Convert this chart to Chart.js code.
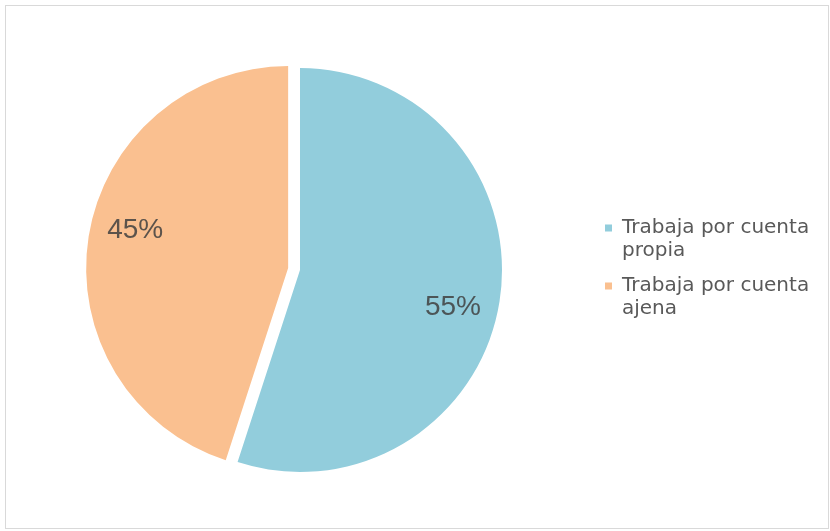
<!DOCTYPE html>
<html>
<head>
<meta charset="utf-8">
<script src="https://cdn.jsdelivr.net/npm/chart.js@4/dist/chart.umd.min.js"></script>
<style>
    html, body { margin: 0; padding: 0; background: #fff; }
    #marco { position: relative; width: 830px; height: 531px; }
    #marco canvas { position: absolute; left: 0; top: 0; }
    #borde { position: absolute; left: 5px; top: 5px; width: 822px; height: 522px; border: 1px solid #d9d9d9; }
</style>
</head>
<body>
<div id="marco">
    <div id="borde"></div>
    <canvas id="grafico-situacion" width="830" height="531"></canvas>
</div>
<script>
// categorias partidas en dos lineas para la leyenda
const categorias = [['Trabaja por cuenta', 'propia'], ['Trabaja por cuenta', 'ajena']];
const porcentajes = [55, 45];
const colores = ['#92CDDC', '#FAC090'];

// separacion de cada porcion respecto al centro (px)
const separacion = [0, 12];

const fuenteLeyenda = { family: 'DejaVu Sans', size: 20, lineHeight: 1.15 };

// ancho de la leyenda para dejar la torta centrada en x=300
function anchoLeyenda() {
    const ctx = document.createElement('canvas').getContext('2d');
    ctx.font = fuenteLeyenda.size + 'px "' + fuenteLeyenda.family + '"';
    let maxTexto = 0;
    categorias.forEach(function (c) {
        c.forEach(function (linea) {
            maxTexto = Math.max(maxTexto, ctx.measureText(linea).width);
        });
    });
    return 12 + 7 + fuenteLeyenda.size / 2 + maxTexto + 10;
}

// dibuja cada porcion desplazada sobre su angulo medio, sin agrandar el radio
const porcionesSeparadas = {
    id: 'porcionesSeparadas',
    beforeDatasetDraw(chart, args) {
        const ctx = chart.ctx;
        args.meta.data.forEach(function (arc, i) {
            const p = arc.getProps(['startAngle', 'endAngle']);
            const medio = (p.startAngle + p.endAngle) / 2;
            const d = separacion[i] || 0;
            ctx.save();
            ctx.translate(Math.cos(medio) * d, Math.sin(medio) * d);
            arc.draw(ctx);
            ctx.restore();
        });
        return false;
    }
};

// etiquetas de porcentaje dentro de cada porcion
const etiquetasPorcentaje = {
    id: 'etiquetasPorcentaje',
    afterDatasetsDraw(chart) {
        const ctx = chart.ctx;
        const meta = chart.getDatasetMeta(0);
        ctx.save();
        ctx.font = '28px "Liberation Sans"';
        ctx.fillStyle = 'rgba(64, 64, 64, 0.85)';
        ctx.textAlign = 'center';
        ctx.textBaseline = 'middle';
        meta.data.forEach(function (arc, i) {
            const p = arc.getProps(['x', 'y', 'startAngle', 'endAngle', 'outerRadius']);
            const medio = (p.startAngle + p.endAngle) / 2;
            const d = separacion[i] || 0;
            const cx = p.x + Math.cos(medio) * d;
            const cy = p.y + Math.sin(medio) * d;
            const giro = medio + 0.085;
            const r = p.outerRadius * 0.78;
            ctx.fillText(porcentajes[i] + '%', cx + Math.cos(giro) * r, cy + Math.sin(giro) * r);
        });
        ctx.restore();
    }
};

function drawGraficoSituacion(id) {
    const ctx = document.getElementById(id);
    const izq = 7;
    const legendLeft = 593;
    return new Chart(ctx, {
        type: 'pie',
        data: {
            labels: categorias,
            datasets: [{
                data: porcentajes,
                backgroundColor: colores,
                borderWidth: 0,
                hoverOffset: 0
            }]
        },
        options: {
            responsive: false,
            animation: false,
            layout: {
                padding: {
                    top: 68,
                    bottom: 59,
                    left: izq,
                    right: 830 - legendLeft - anchoLeyenda()
                }
            },
            plugins: {
                legend: {
                    position: 'right',
                    align: 'center',
                    labels: {
                        boxWidth: 7,
                        boxHeight: 7,
                        padding: 12,
                        color: '#595959',
                        font: fuenteLeyenda
                    }
                },
                tooltip: {
                    enabled: false
                }
            }
        },
        plugins: [porcionesSeparadas, etiquetasPorcentaje]
    });
}

drawGraficoSituacion('grafico-situacion');
</script>
</body>
</html>
